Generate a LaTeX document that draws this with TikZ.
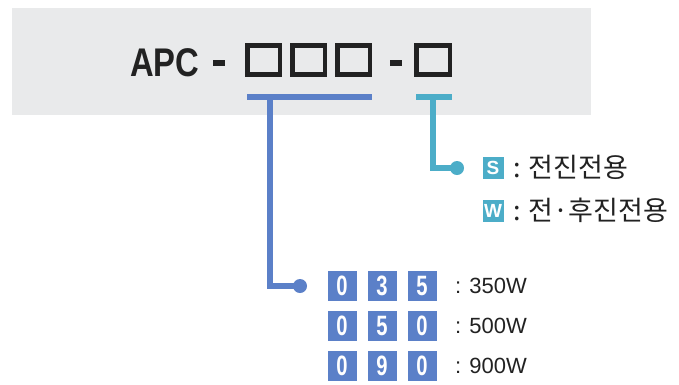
\documentclass[tikz,border=0pt]{standalone}
\usepackage{fontspec}
\setmainfont{Liberation Sans}
\newfontfamily\kr{Noto Sans CJK KR}
\definecolor{bgray}{HTML}{E9EAEB}
\definecolor{cblue}{HTML}{5B80C8}
\definecolor{cteal}{HTML}{4CADC8}
\definecolor{ink}{HTML}{222222}
\tikzset{
  x=1pt, y=-1pt,
  codebox/.style={draw=ink, line width=4.5pt, minimum width=32.5pt, minimum height=29pt, inner sep=0pt},
  dashbar/.style={fill=ink, minimum width=12pt, minimum height=6pt, inner sep=0pt},
  bluebar/.style={cblue, line width=5.5pt},
  tealbar/.style={cteal, line width=5.5pt},
  numbox/.style={fill=cblue, text=white, minimum width=29pt, minimum height=30pt, inner sep=0pt,
    font=\fontsize{28}{28}\selectfont\bfseries},
  letbox/.style={fill=cteal, text=white, minimum width=21pt, minimum height=22pt, inner sep=0pt,
    font=\fontsize{19}{19}\selectfont\bfseries},
  dotnode/.style={circle, minimum size=14pt, inner sep=0pt},
  wlabel/.style={anchor=west, inner sep=0pt, text=ink, font=\fontsize{22}{22}\selectfont},
  krlabel/.style={anchor=west, inner sep=0pt, text=ink, font=\kr\fontsize{27}{27}\selectfont},
}
\newcommand{\nx}[1]{\scalebox{0.72}[1]{#1}}
\begin{document}
\begin{tikzpicture}
\useasboundingbox (0,0) rectangle (679,384);
\fill[bgray] (12,8) rectangle (591,115);
% model code
\node[anchor=base west, inner sep=0pt, text=ink, font=\fontsize{40}{40}\selectfont\bfseries] (apc) at (130,76) {\scalebox{0.82}[1]{APC}};
\node[dashbar] (d1) at (219,63) {};
\node[codebox] (b1) at (263.5,60) {};
\node[codebox] (b2) at (308.5,60) {};
\node[codebox] (b3) at (353.5,60) {};
\node[dashbar] (d2) at (396,63) {};
\node[codebox, minimum width=33.5pt] (b4) at (433,60) {};
% bars
\coordinate (blL) at (247,97);
\coordinate (blR) at (372,97);
\coordinate (blM) at (270,97);
\coordinate (tlL) at (416,97);
\coordinate (tlR) at (452,97);
\coordinate (tlM) at (433,97);
\draw[bluebar] (blL) -- (blR);
\draw[tealbar] (tlL) -- (tlR);
% dots
\node[dotnode, fill=cblue] (dotB) at (300,286) {};
\node[dotnode, fill=cteal] (dotT) at (457,168) {};
\draw[bluebar] (blM) |- (dotB.center);
\draw[tealbar] (tlM) |- (dotT.center);
% S / W
\node[letbox] (s) at (493,168) {S};
\node[letbox] (w) at (493,211) {W};
\node[krlabel] (sl) at (513,167) {: 전진전용};
\node[krlabel] (wl) at (513,210) {: 전·후진전용};
% numbers
\node[numbox] (n11) at (342,286) {\nx{0}};
\node[numbox] (n12) at (382,286) {\nx{3}};
\node[numbox] (n13) at (422,286) {\nx{5}};
\node[numbox] (n21) at (342,326) {\nx{0}};
\node[numbox] (n22) at (382,326) {\nx{5}};
\node[numbox] (n23) at (422,326) {\nx{0}};
\node[numbox] (n31) at (342,366) {\nx{0}};
\node[numbox] (n32) at (382,366) {\nx{9}};
\node[numbox] (n33) at (422,366) {\nx{0}};
\node[wlabel] (t1) at (455,286) {: 350W};
\node[wlabel] (t2) at (455,326) {: 500W};
\node[wlabel] (t3) at (455,366) {: 900W};
\end{tikzpicture}
\end{document}
